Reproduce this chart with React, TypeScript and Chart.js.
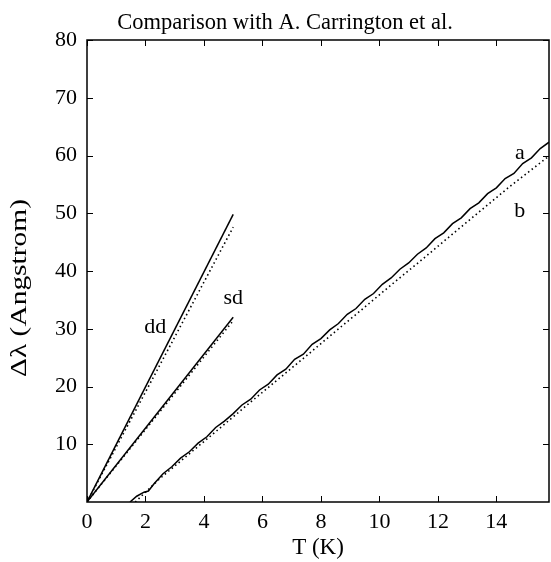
import React, { useEffect, useRef } from "react";
import { Chart, registerables } from "chart.js";

Chart.register(...registerables);

const TITLE = "Comparison with A. Carrington et al.";
const X_TITLE = "T (K)";
const Y_TITLE = "Δλ (Angstrom)";

const ddT = [0, 5];
const ddSolid = [0, 49.8];
const ddDotted = [0, 47.6];
const sdT = [0, 5];
const sdSolid = [0, 32.0];
const sdDotted = [0, 31.4];

const aT = [1.47, 1.7, 1.95, 2.1, 2.3, 2.6, 2.9, 3.2, 3.5, 3.8, 4.1, 4.4, 4.7, 5.0, 5.3, 5.6, 5.9, 6.2, 6.5, 6.8, 7.1, 7.4, 7.7, 8.0, 8.3, 8.6, 8.9, 9.2, 9.5, 9.8, 10.1, 10.4, 10.7, 11.0, 11.3, 11.6, 11.9, 12.2, 12.5, 12.8, 13.1, 13.4, 13.7, 14.0, 14.3, 14.6, 14.9, 15.2, 15.5, 15.8];
const aVal = [0, 1.0, 1.7, 1.9, 3.2, 4.9, 6.1, 7.6, 8.7, 10.2, 11.3, 12.9, 14.0, 15.3, 16.8, 17.8, 19.4, 20.4, 22.0, 23.0, 24.7, 25.6, 27.3, 28.3, 29.8, 30.9, 32.5, 33.5, 35.1, 36.1, 37.7, 38.8, 40.3, 41.4, 42.9, 44.0, 45.6, 46.6, 48.2, 49.2, 50.8, 51.8, 53.4, 54.4, 56.0, 56.9, 58.6, 59.6, 61.2, 62.3];

const bT = [1.65, 2.5, 3.5, 4.5, 5.5, 6.5, 7.5, 8.5, 9.5, 10.5, 11.5, 12.5, 13.5, 14.5, 15.8];
const bVal = [0, 4.1, 8.35, 12.6, 16.9, 21.1, 25.3, 29.55, 33.75, 38.0, 42.15, 46.4, 50.6, 54.8, 59.9];

const curveLabels = ["dd", "sd", "a", "b"];
const labelT = [2.33, 5.0, 14.8, 14.8];
const labelVal = [30.3, 35.3, 60.4, 50.4];

const xTicks = [0, 2, 4, 6, 8, 10, 12, 14];
const yTicks = [10, 20, 30, 40, 50, 60, 70, 80];

const FONT = "'Liberation Serif', 'Times New Roman', serif";

const pts = (xs: number[], ys: number[]) => xs.map((x, i) => ({ x, y: ys[i] }));

export default function App() {
  const ref = useRef<HTMLCanvasElement | null>(null);

  useEffect(() => {
    if (!ref.current) return;
    const solid = (data: any) => ({
      data,
      borderColor: "#000",
      borderWidth: 1.5,
      pointRadius: 0,
      showLine: true,
      fill: false,
      tension: 0,
    });
    const dotted = (data: any) => ({
      ...solid(data),
      borderWidth: 1.6,
      borderDash: [1.5, 3],
    });

    const framePlugin = {
      id: "frame",
      afterDraw(chart: any) {
        const { ctx, chartArea: ca, scales } = chart;
        const xs = scales.x;
        const ys = scales.y;
        ctx.save();
        ctx.strokeStyle = "#000";
        ctx.lineWidth = 1.5;
        ctx.strokeRect(ca.left, ca.top, ca.right - ca.left, ca.bottom - ca.top);
        ctx.lineWidth = 1;
        const L = 6;
        ctx.beginPath();
        xTicks.forEach((t) => {
          const px = Math.round(xs.getPixelForValue(t)) + 0.5;
          ctx.moveTo(px, ca.bottom);
          ctx.lineTo(px, ca.bottom - L);
          ctx.moveTo(px, ca.top);
          ctx.lineTo(px, ca.top + L);
        });
        yTicks.forEach((t) => {
          const py = Math.round(ys.getPixelForValue(t)) + 0.5;
          ctx.moveTo(ca.left, py);
          ctx.lineTo(ca.left + L, py);
          ctx.moveTo(ca.right, py);
          ctx.lineTo(ca.right - L, py);
        });
        ctx.stroke();

        ctx.fillStyle = "#000";
        ctx.font = `22px ${FONT}`;
        ctx.textAlign = "center";
        ctx.textBaseline = "middle";
        curveLabels.forEach((s, i) => {
          ctx.fillText(s, xs.getPixelForValue(labelT[i]), ys.getPixelForValue(labelVal[i]));
        });
        ctx.textBaseline = "alphabetic";
        ctx.font = `22.5px ${FONT}`;
        ctx.fillText(TITLE, 285, 29);

        // y-axis title (rotated, slightly stretched along its length)
        ctx.font = `23px ${FONT}`;
        const w = ctx.measureText(Y_TITLE).width;
        ctx.translate(20, 288);
        ctx.rotate(-Math.PI / 2);
        ctx.scale(178 / w, 1);
        ctx.textBaseline = "middle";
        ctx.fillText(Y_TITLE, 0, 0);
        ctx.restore();
      },
    };

    const chart = new Chart(ref.current, {
      type: "scatter",
      data: {
        datasets: [
          solid(pts(ddT, ddSolid)),
          dotted(pts(ddT, ddDotted)),
          solid(pts(sdT, sdSolid)),
          dotted(pts(sdT, sdDotted)),
          solid(pts(aT, aVal)),
          dotted(pts(bT, bVal)),
        ],
      },
      options: {
        responsive: false,
        animation: false,
        events: [],
        layout: { padding: { top: 40, right: 2, left: 0, bottom: 0 } },
        plugins: {
          legend: { display: false },
          title: { display: false },
          tooltip: { enabled: false },
        },
        scales: {
          x: {
            type: "linear",
            min: 0,
            max: 15.8,
            grid: { display: false, drawTicks: false },
            border: { display: false },
            ticks: {
              stepSize: 2,
              includeBounds: false,
              autoSkip: false,
              maxRotation: 0,
              padding: 7,
              color: "#000",
              font: { family: FONT, size: 22, lineHeight: 1.2 },
            },
            title: {
              display: true,
              text: X_TITLE,
              color: "#000",
              padding: { top: 0, bottom: 0 },
              font: { family: FONT, size: 23, lineHeight: 1.2 },
            },
            afterFit: (s: any) => {
              s.height = 60;
            },
          },
          y: {
            type: "linear",
            min: 0,
            max: 80,
            grid: { display: false, drawTicks: false },
            border: { display: false },
            ticks: {
              stepSize: 10,
              autoSkip: false,
              padding: 10,
              color: "#000",
              font: { family: FONT, size: 22, lineHeight: 1.2 },
              callback: (v: any) => (v === 0 ? "" : String(v)),
            },
            afterFit: (s: any) => {
              s.width = 87;
            },
          },
        },
      },
      plugins: [framePlugin],
    });
    return () => chart.destroy();
  }, []);

  return (
    <div style={{ position: "fixed", left: 0, top: 0, width: 551, height: 562, background: "#fff" }}>
      <canvas ref={ref} width={551} height={562} style={{ width: 551, height: 562, display: "block" }} />
    </div>
  );
}
